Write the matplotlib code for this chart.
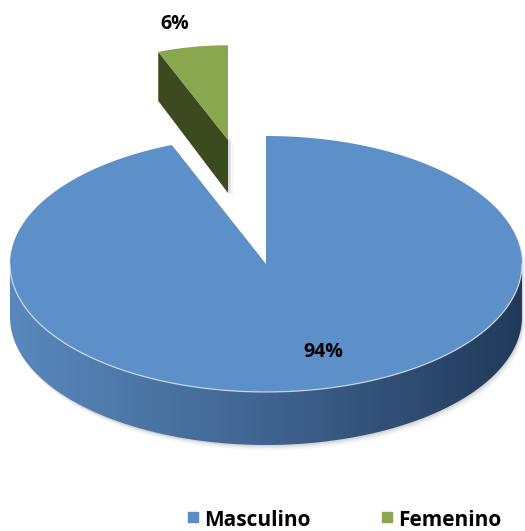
import numpy as np
import matplotlib.pyplot as plt
from matplotlib.patches import Polygon
from matplotlib.colors import LinearSegmentedColormap

# data
labels = ['Masculino', 'Femenino']
values = [94, 6]
pct_labels = ['94%', '6%']

# style
top_colors = ['#5d90c8', '#8aa64e']
cut_color = '#3c4a1f'
side_cmap = LinearSegmentedColormap.from_list('side', ['#5a88bd', '#3f6490', '#22395a'])
legend_colors = ['#5b8fc9', '#8aa64e']
font = 'Open Sans'

cx, cy = 266, 264          # centre of top face (pixels)
rx, ry = 256, 128          # radii of top face
depth = 53                 # pie thickness
explode_dx, explode_dy = -38, -124
small = 0.74               # exploded slice looks smaller (perspective)


def arc(x0, y0, rx, ry, a0, a1, n=300):
    t = np.radians(np.linspace(a0, a1, n))
    return np.column_stack([x0 + rx * np.cos(t), y0 - ry * np.sin(t)])


fig = plt.figure(figsize=(5.25, 5.31), dpi=100)
ax = fig.add_axes([0, 0, 1, 1])
ax.set_xlim(0, 525)
ax.set_ylim(531, 0)
ax.axis('off')

total = sum(values)
fem_span = 360 * values[1] / total
f0, f1 = 90, 90 + fem_span          # Femenino
m0, m1 = f1, 450                    # Masculino

# ---- Masculino (big slice) ----
top = np.vstack([[cx, cy], arc(cx, cy, rx, ry, m0, m1)])
front_top = arc(cx, cy, rx, ry, max(m0, 180), min(m1, 360))
front_bot = front_top + [0, depth]
side = np.vstack([front_top, front_bot[::-1]])

# soft shadow
for k, a in [(5, 0.10), (3, 0.15), (1.5, 0.2)]:
    ax.add_patch(Polygon(side + [k * 0.6, k], closed=True, fc='#9a9a9a', ec='none', alpha=a, zorder=1))
    ax.add_patch(Polygon(top + [k * 0.6, k], closed=True, fc='#9a9a9a', ec='none', alpha=a, zorder=1))

side_patch = Polygon(side, closed=True, fc='none', ec='none', zorder=2)
ax.add_patch(side_patch)
grad = np.linspace(0, 1, 256).reshape(1, -1)
im = ax.imshow(grad, extent=[cx - rx, cx + rx, cy + ry + depth, cy], cmap=side_cmap,
               aspect='auto', zorder=2, interpolation='bilinear')
im.set_clip_path(side_patch)

ax.add_patch(Polygon(top, closed=True, fc=top_colors[0], ec='none', zorder=3))
ax.plot(front_top[:, 0], front_top[:, 1], color='#dde8f4', lw=0.9, alpha=0.8, zorder=4)

# ---- Femenino (exploded slice) ----
ax_, ay_ = cx + explode_dx, cy + explode_dy
g_top = np.vstack([[ax_, ay_], arc(ax_, ay_, rx * small, ry * small, f0, f1)])
outer = g_top[-1]
cut = np.array([[ax_, ay_], outer, outer + [0, depth - 4], [ax_, ay_ + depth]])

for k, a in [(5, 0.10), (3, 0.15), (1.5, 0.2)]:
    ax.add_patch(Polygon(cut + [k, k * 0.6], closed=True, fc='#9a9a9a', ec='none', alpha=a, zorder=5))
ax.add_patch(Polygon(cut, closed=True, fc=cut_color, ec='none', zorder=6))
ax.add_patch(Polygon(g_top, closed=True, fc=top_colors[1], ec='none', zorder=7))

# ---- labels ----
ax.text(323, 352, pct_labels[0], ha='center', va='center', fontsize=14,
        fontweight='bold', family=font, zorder=8)
ax.text(175, 24, pct_labels[1], ha='center', va='center', fontsize=14,
        fontweight='bold', family=font, zorder=8)

# ---- legend ----
leg_x = [193, 387]
for x, lab, col in zip(leg_x, labels, legend_colors):
    ax.scatter([x], [517], marker='s', s=55, color=col, zorder=8)
    ax.text(x + 11, 526, lab, ha='left', va='baseline', fontsize=15,
            fontweight='bold', family=font, zorder=8)

fig.savefig('out.png', dpi=100)
